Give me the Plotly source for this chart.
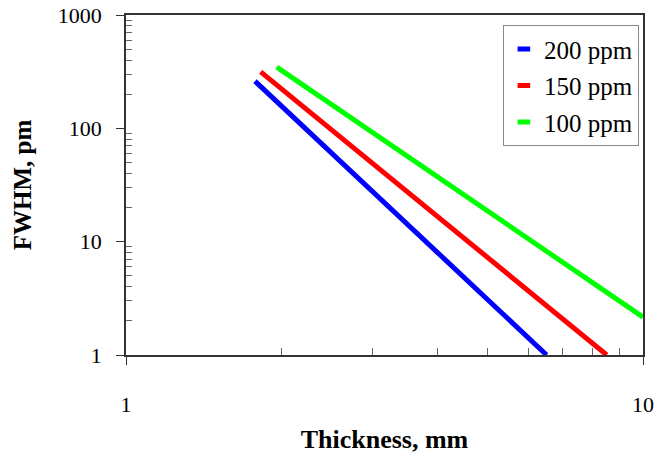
import plotly.graph_objects as go

# Data (log-log straight lines)
series_names = ["200 ppm", "150 ppm", "100 ppm"]
series_colors = ["#0000FF", "#FF0000", "#00FF00"]
thickness_200 = [1.776, 6.51]
fwhm_200 = [261, 1.0]
thickness_150 = [1.822, 8.51]
fwhm_150 = [315, 1.0]
thickness_100 = [1.957, 10.0]
fwhm_100 = [347, 2.16]

x_ticks = [1, 10]
y_ticks = [1, 10, 100, 1000]
minor_x = [2, 3, 4, 5, 6, 7, 8, 9]
minor_y = [m * d for d in (1, 10, 100) for m in (2, 3, 4, 5, 6, 7, 8, 9)]

xs = [thickness_200, thickness_150, thickness_100]
ys = [fwhm_200, fwhm_150, fwhm_100]

SERIF = "Liberation Serif, Times New Roman, serif"

fig = go.Figure()
for name, color, x, y in zip(series_names, series_colors, xs, ys):
    fig.add_trace(go.Scatter(x=x, y=y, mode="lines", name=name,
                             line=dict(color=color, width=5),
                             showlegend=False, hoverinfo="skip",
                             cliponaxis=True))
for i, (name, color) in enumerate(zip(series_names, series_colors)):
    fig.add_trace(go.Scatter(x=[None], y=[None], mode="markers", name=name,
                             legendgroup="g%d" % i,
                             marker=dict(symbol="line-ew", size=9,
                                         line=dict(color=color, width=5))))

axis_common = dict(
    type="log",
    showgrid=False,
    zeroline=False,
    showline=True,
    linecolor="#333333",
    linewidth=1.5,
    mirror=True,
    ticks="outside",
    ticklen=8,
    tickcolor="#333333",
    tickwidth=1,
    automargin=False,
    tickfont=dict(family=SERIF, size=22, color="black"),
)

fig.update_xaxes(
    **axis_common,
    range=[0, 1],
    tickmode="array",
    tickvals=x_ticks,
    ticktext=[str(v) for v in x_ticks],
    ticklabelstandoff=21,
    minor=dict(tickmode="array", tickvals=minor_x, ticks="inside",
               ticklen=7, tickcolor="#666666", showgrid=False),
    title=dict(text="<b>Thickness, mm</b>",
               font=dict(family=SERIF, size=26, color="black"),
               standoff=14),
)
fig.update_yaxes(
    **axis_common,
    range=[0, 3],
    tickmode="array",
    tickvals=y_ticks,
    ticktext=[str(v) for v in y_ticks],
    ticklabelstandoff=10,
    minor=dict(tickmode="array", tickvals=minor_y, ticks="inside",
               ticklen=6, tickcolor="#666666", showgrid=False),
    title=dict(text="<b>FWHM, pm</b>",
               font=dict(family=SERIF, size=25, color="black"),
               standoff=19),
)

fig.update_layout(
    width=667,
    height=459,
    autosize=False,
    margin=dict(l=126, r=24, t=15, b=104, autoexpand=False),
    paper_bgcolor="white",
    plot_bgcolor="white",
    legend=dict(
        x=0.729, y=0.97, xanchor="left", yanchor="top",
        bordercolor="#888888", borderwidth=1, bgcolor="white",
        font=dict(family=SERIF, size=25, color="black"),
        itemwidth=30,
        tracegroupgap=1,
    ),
)

fig.write_html("out.html", config={"displayModeBar": False})
with open("out.html", "r", encoding="utf-8") as f:
    html = f.read()
html = html.replace("<head>", "<head><style>html,body{margin:0;padding:0;overflow:hidden;}</style>", 1)
with open("out.html", "w", encoding="utf-8") as f:
    f.write(html)
